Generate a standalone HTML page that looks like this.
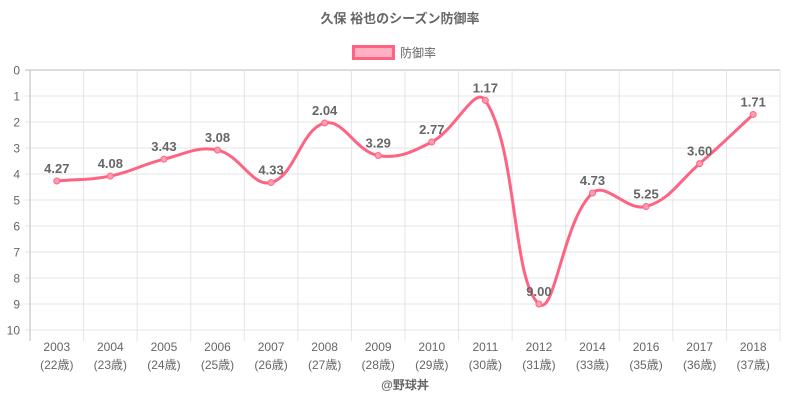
<!DOCTYPE html>
<html><head><meta charset="utf-8"><style>
body{margin:0;background:#fff;width:800px;height:400px;overflow:hidden}
svg{display:block;font-family:"Liberation Sans","Noto Sans CJK JP",sans-serif}
</style></head><body>
<svg id="s" width="800" height="400" xmlns="http://www.w3.org/2000/svg">
<text x="400" y="23" text-anchor="middle" font-size="13" font-weight="bold" fill="#666">久保 裕也のシーズン防御率</text>
<rect x="353.5" y="46.5" width="40" height="12" fill="rgba(255,99,132,0.5)" stroke="#ff6384" stroke-width="3"/>
<text x="400" y="57" font-size="12" fill="#666">防御率</text>
<text x="405" y="389" text-anchor="middle" font-size="12" font-weight="bold" fill="#666">@野球丼</text>
<g id="g"></g>
</svg>
<script>
var g=document.getElementById('g'),h='';
var L=30,R=780,T=70,B=330,bw=(R-L)/14;
for(var i=0;i<=10;i++){var y=T+i*26;h+='<line x1="25" x2="'+R+'" y1="'+y+'" y2="'+y+'" stroke="'+(i==0?'#bbb':'#e4e4e4')+'"/>';
h+='<text x="20" y="'+(y+4.5)+'" text-anchor="end" font-size="12" fill="#666">'+i+'</text>';}
for(var i=0;i<=14;i++){var x=L+i*bw;h+='<line x1="'+x+'" x2="'+x+'" y1="'+T+'" y2="341" stroke="'+(i==0?'#bbb':'#e4e4e4')+'"/>';}
var yr=['2003','2004','2005','2006','2007','2008','2009','2010','2011','2012','2014','2016','2017','2018'];
var ag=[22,23,24,25,26,27,28,29,30,31,33,35,36,37];
var v=[4.27,4.08,3.43,3.08,4.33,2.04,3.29,2.77,1.17,9.00,4.73,5.25,3.60,1.71];
var p=[];
for(var i=0;i<14;i++){var x=L+bw*(i+.5);p.push([x,T+26*v[i]]);
h+='<text x="'+x+'" y="351" text-anchor="middle" font-size="12" fill="#666">'+yr[i]+'</text>';
h+='<text x="'+x+'" y="369" text-anchor="middle" font-size="12" fill="#666">('+ag[i]+'歳)</text>';}
var t=0.4,cp=[];
for(var i=0;i<14;i++){var pr=p[i-1]||p[i],c=p[i],n=p[i+1]||p[i];
var d01=Math.hypot(c[0]-pr[0],c[1]-pr[1]),d12=Math.hypot(n[0]-c[0],n[1]-c[1]);
var s01=d01/(d01+d12)||0,s12=d12/(d01+d12)||0;var fa=t*s01,fb=t*s12;
cp.push([[c[0]-fa*(n[0]-pr[0]),c[1]-fa*(n[1]-pr[1])],[c[0]+fb*(n[0]-pr[0]),c[1]+fb*(n[1]-pr[1])]]);}
var d='M'+p[0][0]+','+p[0][1];
for(var i=1;i<14;i++){d+=' C'+cp[i-1][1][0]+','+cp[i-1][1][1]+' '+cp[i][0][0]+','+cp[i][0][1]+' '+p[i][0]+','+p[i][1];}
h+='<path d="'+d+'" fill="none" stroke="#ff6384" stroke-width="3"/>';
for(var i=0;i<14;i++){h+='<circle cx="'+p[i][0]+'" cy="'+p[i][1]+'" r="3" fill="#ff9eb1" stroke="#ff6384" stroke-width="1"/>';
h+='<text x="'+p[i][0]+'" y="'+(p[i][1]-8)+'" text-anchor="middle" font-size="13" font-weight="bold" fill="#666">'+v[i].toFixed(2)+'</text>';}
g.innerHTML=h;
</script>
</body></html>
